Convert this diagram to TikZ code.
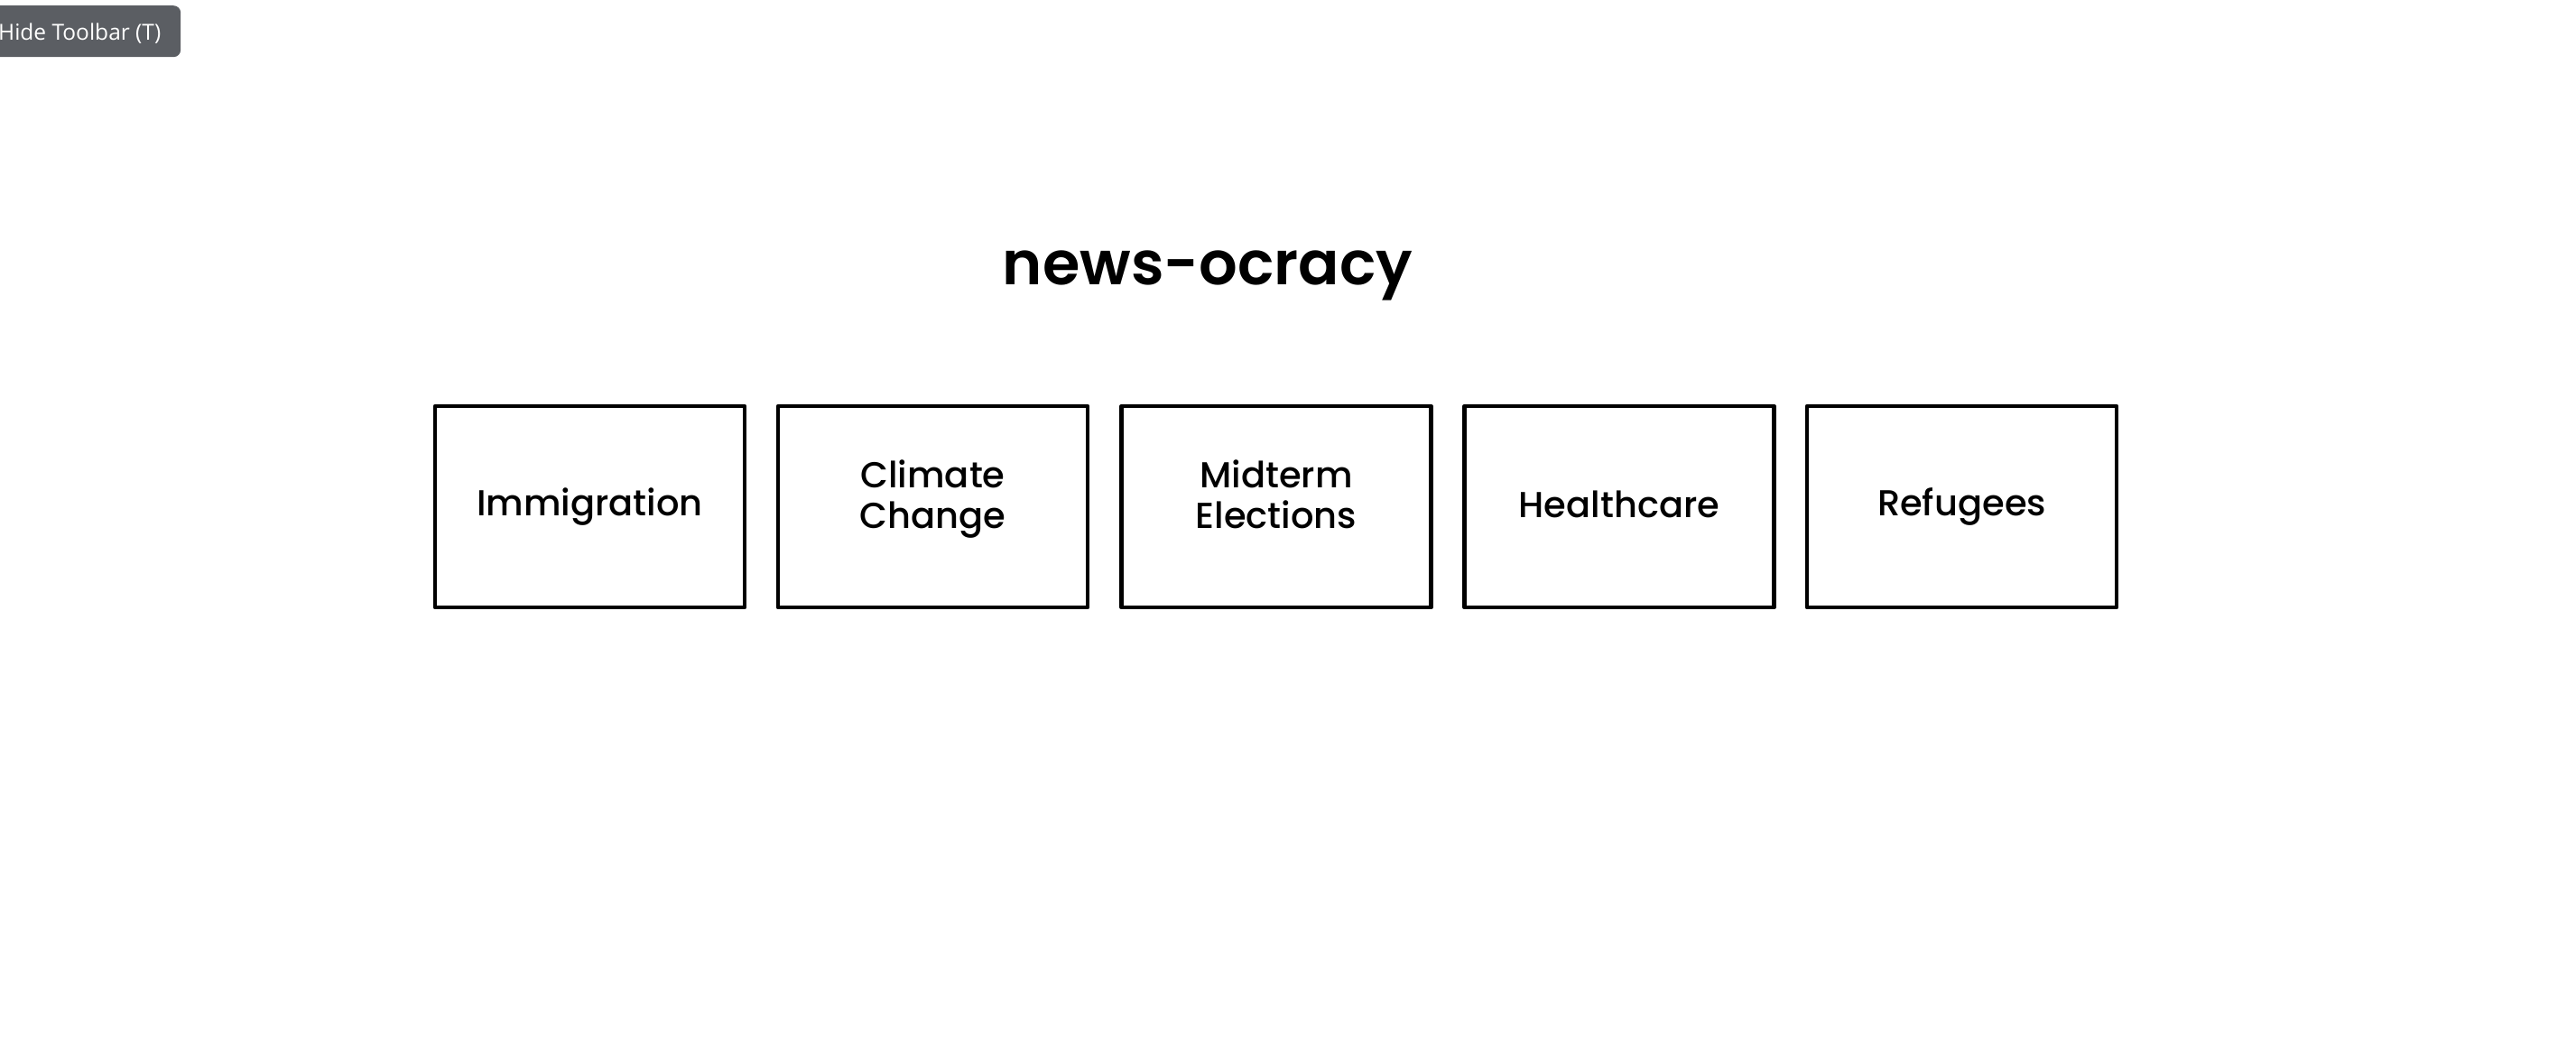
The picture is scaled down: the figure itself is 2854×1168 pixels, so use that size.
\documentclass[tikz,border=0pt]{standalone}
\usepackage{fontspec}
\setmainfont{Poppins Medium}
\newfontfamily\btnfont{Open Sans}
\newfontfamily\titlefont{Poppins SemiBold}
\definecolor{btngray}{HTML}{5B5E63}
\begin{document}
\begin{tikzpicture}[x=1pt,y=-1pt,
  topic/.style={draw=black, line width=4.4pt, line join=round, minimum width=343pt, minimum height=223pt, inner sep=0pt},
  lbl/.style={inner sep=0pt, align=center, font=\fontsize{40}{45}\selectfont},
]
\useasboundingbox (0,0) rectangle (2854,1168);
\fill[white] (0,0) rectangle (2854,1168);
% toolbar button
\node[fill=btngray, rounded corners=8pt, minimum width=214pt, minimum height=57pt, inner sep=0pt, anchor=north west] (btn) at (-14,6) {};
\node[text=white, font=\btnfont\fontsize{24.5}{25}\selectfont, anchor=base west, inner sep=0pt] (btntxt) at (-2,44) {Hide Toolbar (T)};
% title
\node[anchor=base, inner sep=0pt, font=\titlefont\fontsize{67}{67}\selectfont] (title) at (1338,315) {news-ocracy};
% topic boxes
\node[topic] (b1) at (653.5,561.5) {};
\node[topic] (b2) at (1033.5,561.5) {};
\node[topic] (b3) at (1414,561.5) {};
\node[topic] (b4) at (1794,561.5) {};
\node[topic] (b5) at (2173.5,561.5) {};
\node[lbl] (t1) at (b1.center) {Immigration};
\node[lbl, yshift=8pt] (t2) at (b2.center) {Climate\\Change};
\node[lbl, yshift=13.5pt] (t3) at (b3.center) {Midterm\\Elections};
\node[lbl, yshift=3pt] (t4) at (b4.center) {Healthcare};
\node[lbl] (t5) at (b5.center) {Refugees};
\end{tikzpicture}
\end{document}
